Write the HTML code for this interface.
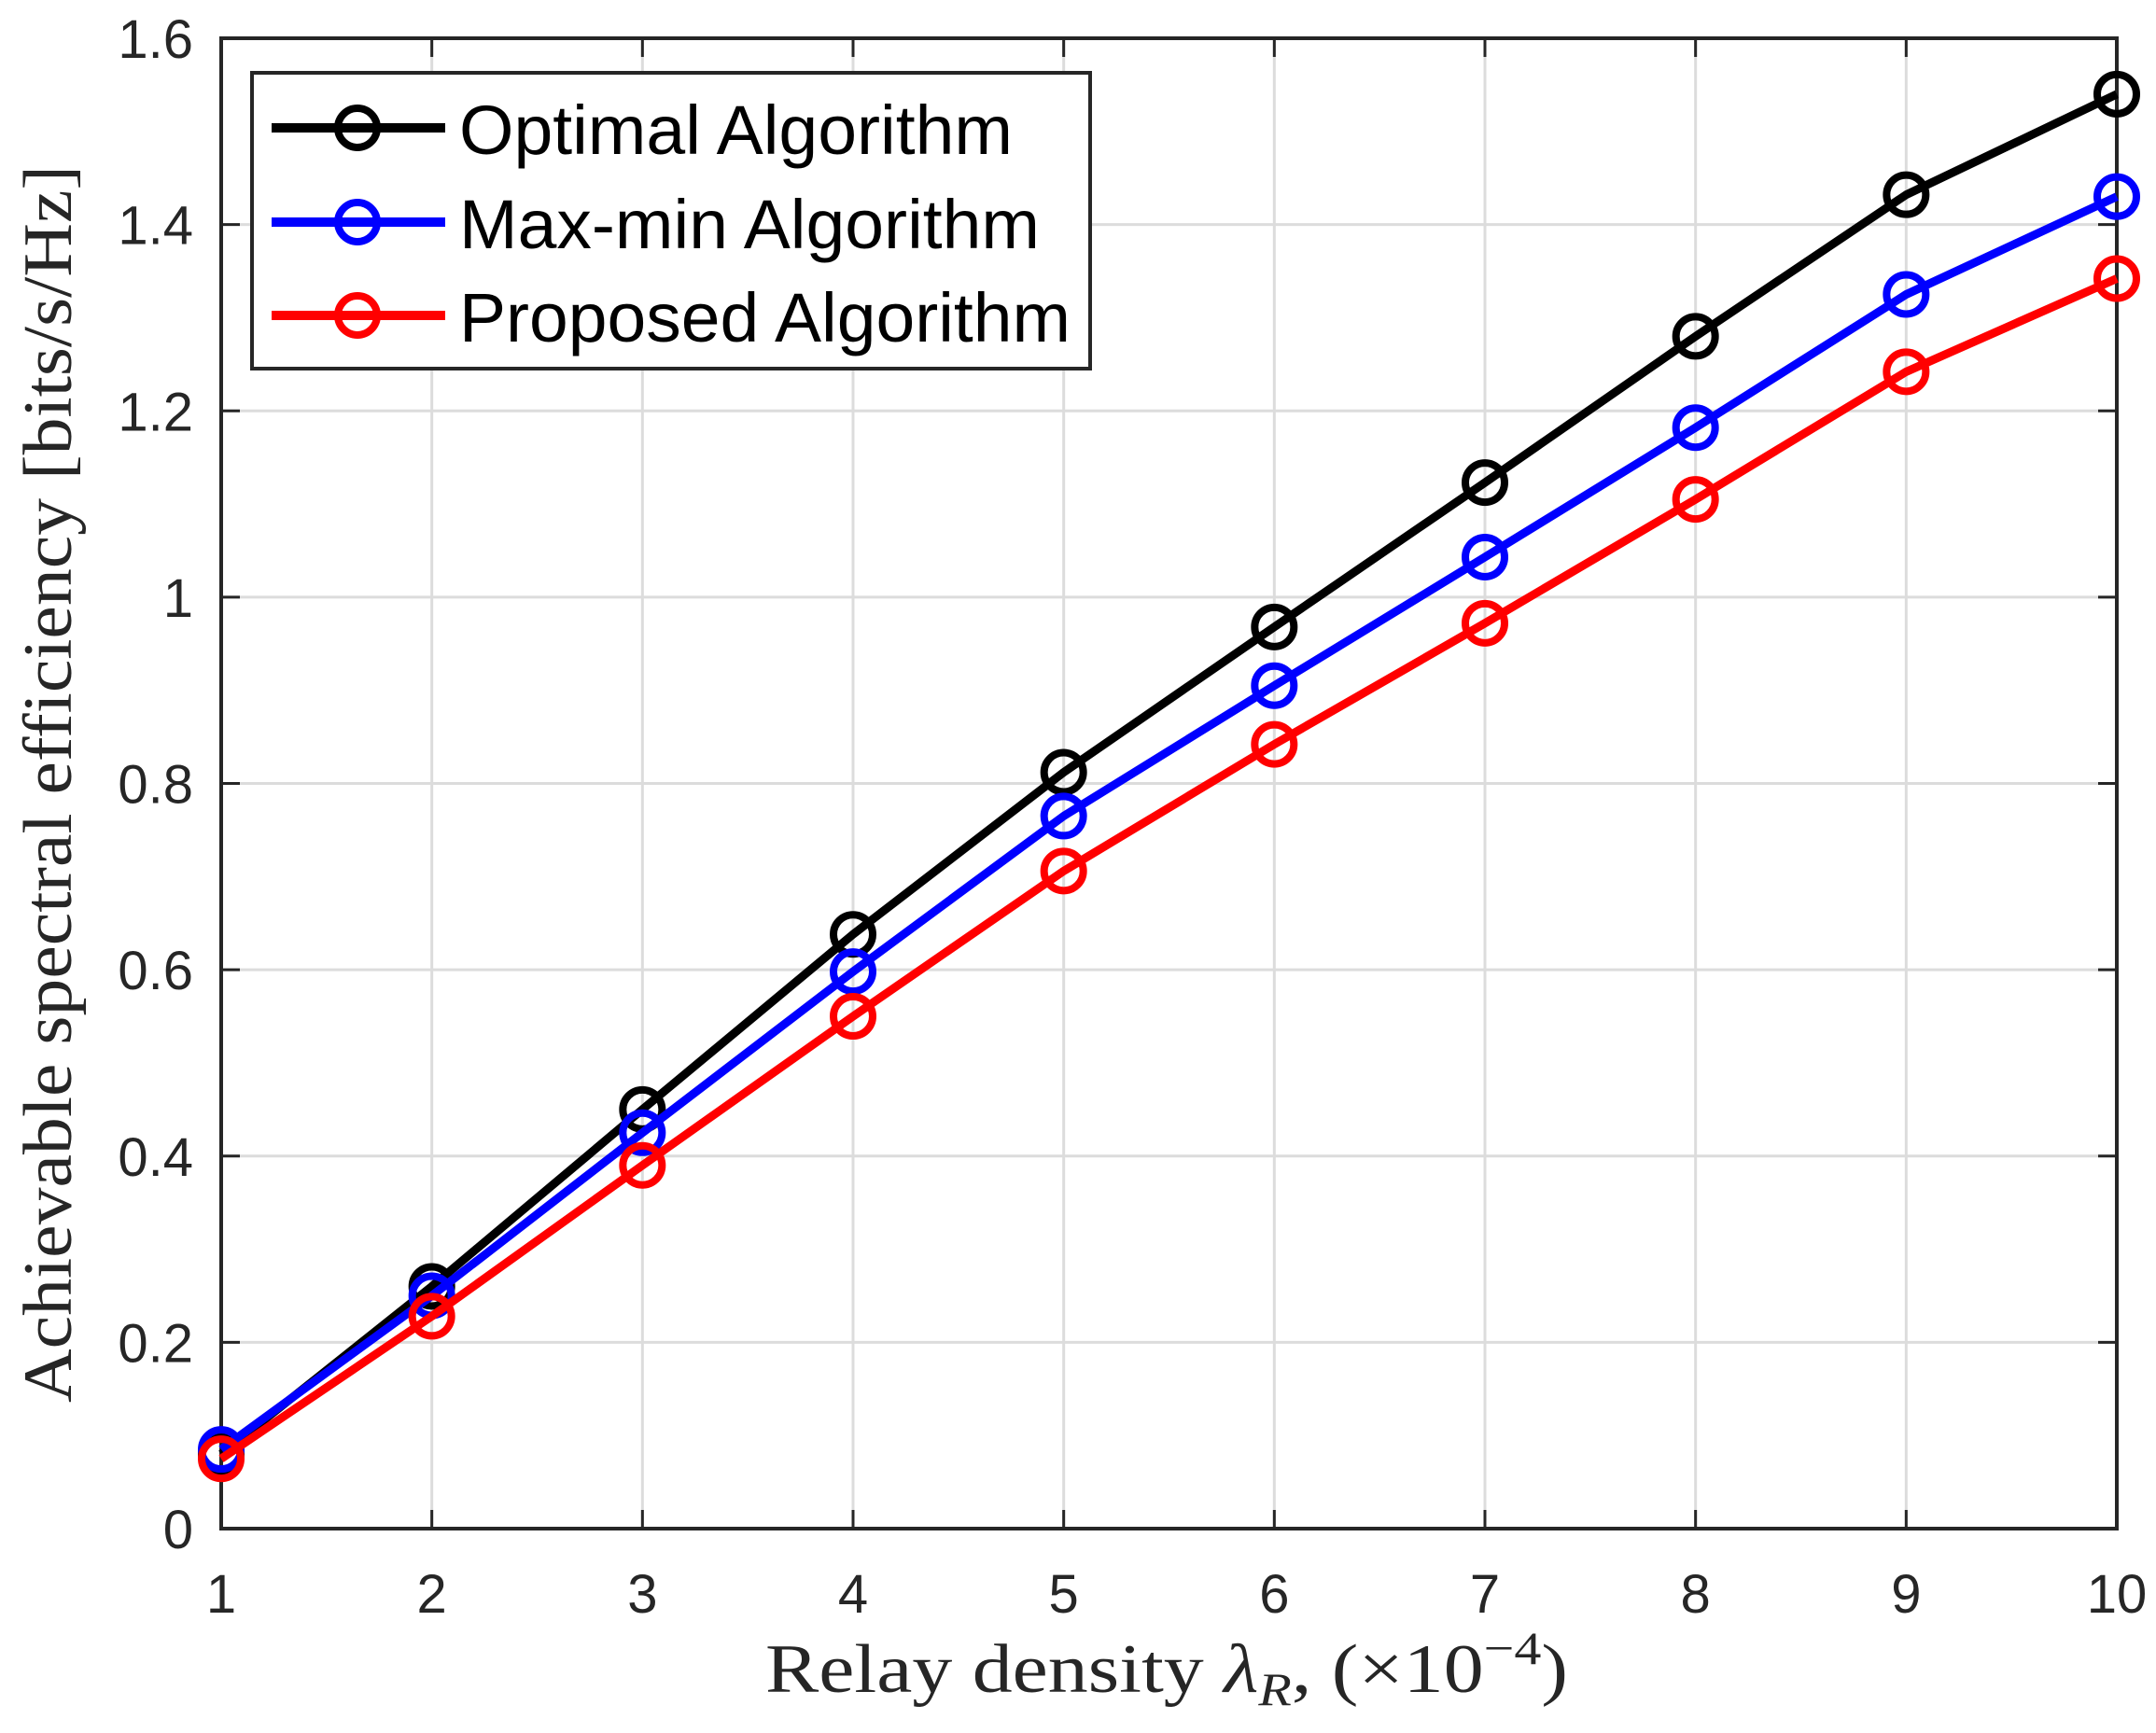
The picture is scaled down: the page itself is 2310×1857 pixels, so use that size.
<!DOCTYPE html>
<html><head><meta charset="utf-8"><style>html,body{margin:0;padding:0;background:#fff}</style></head>
<body>
<svg xmlns="http://www.w3.org/2000/svg" width="2310" height="1852" viewBox="0 0 2310 1852">
<rect width="2310" height="1852" fill="#fff"/>
<g id="grid" stroke="#dcdcdc" stroke-width="3"></g>
<g id="ticks" stroke="#262626" stroke-width="3"></g>
<rect x="237" y="41" width="2031" height="1597" fill="none" stroke="#262626" stroke-width="4"/>
<g id="series" fill="none" stroke-width="9" stroke-linejoin="round"></g>
<g id="labels" font-family="Liberation Sans, sans-serif" font-size="58" fill="#262626"></g>
<text x="1250" y="1813" text-anchor="middle" font-family="Liberation Serif, serif" font-size="74" fill="#262626" textLength="860" lengthAdjust="spacingAndGlyphs">Relay density <tspan font-style="italic">λ</tspan><tspan font-style="italic" font-size="50" dy="14">R</tspan><tspan dy="-14">, (×10</tspan><tspan font-size="50" dy="-30">−4</tspan><tspan dy="30">)</tspan></text>
<text transform="translate(76,840) rotate(-90)" text-anchor="middle" font-family="Liberation Serif, serif" font-size="74" fill="#262626" textLength="1326" lengthAdjust="spacingAndGlyphs">Achievable spectral efficiency [bits/s/Hz]</text>
<g>
<rect x="270" y="78" width="898" height="317" fill="#fff" stroke="#262626" stroke-width="4"/>
<line x1="291" y1="137" x2="477" y2="137" stroke="#000" stroke-width="10"/><circle cx="383" cy="137" r="21" fill="none" stroke="#000" stroke-width="8"/>
<line x1="291" y1="238" x2="477" y2="238" stroke="#0000ff" stroke-width="10"/><circle cx="383" cy="238" r="21" fill="none" stroke="#0000ff" stroke-width="8"/>
<line x1="291" y1="338" x2="477" y2="338" stroke="#ff0000" stroke-width="10"/><circle cx="383" cy="338" r="21" fill="none" stroke="#ff0000" stroke-width="8"/>
<g font-family="Liberation Sans, sans-serif" font-size="74" fill="#000">
<text x="492" y="165" textLength="593" lengthAdjust="spacingAndGlyphs">Optimal Algorithm</text>
<text x="492" y="266" textLength="622" lengthAdjust="spacingAndGlyphs">Max-min Algorithm</text>
<text x="492" y="366" textLength="655" lengthAdjust="spacingAndGlyphs">Proposed Algorithm</text>
</g>
</g>
<script>
const L=237,R=2268,T=41,B=1638,NS="http://www.w3.org/2000/svg";
const X=v=>L+(v-1)*(R-L)/9, Y=v=>B-v*(B-T)/1.6;
function el(p,t,a,txt){const e=document.createElementNS(NS,t);for(const k in a)e.setAttribute(k,a[k]);if(txt!==undefined)e.textContent=txt;document.getElementById(p).appendChild(e);return e;}
for(let i=1;i<=10;i++){const x=X(i);el("grid","line",{x1:x,y1:T,x2:x,y2:B});el("ticks","line",{x1:x,y1:B,x2:x,y2:B-20});el("ticks","line",{x1:x,y1:T,x2:x,y2:T+20});
el("labels","text",{x:x,y:1728,"text-anchor":"middle"},String(i));}
for(let j=0;j<=8;j++){const v=j*0.2,y=Y(v);el("grid","line",{x1:L,y1:y,x2:R,y2:y});el("ticks","line",{x1:L,y1:y,x2:L+20,y2:y});el("ticks","line",{x1:R,y1:y,x2:R-20,y2:y});
let s=(j==0)?"0":(j==5?"1":v.toFixed(1));el("labels","text",{x:207,y:y+21,"text-anchor":"end"},s);}
const data=[["#000",[0.08,0.26,0.45,0.638,0.812,0.968,1.123,1.28,1.432,1.54]],
["#0000ff",[0.085,0.25,0.425,0.598,0.765,0.905,1.043,1.182,1.325,1.43]],
["#ff0000",[0.075,0.228,0.39,0.55,0.706,0.842,0.972,1.105,1.242,1.342]]];
for(const [c,d] of data){el("series","polyline",{points:d.map((v,i)=>X(i+1)+","+Y(v)).join(" "),stroke:c});
d.forEach((v,i)=>el("series","circle",{cx:X(i+1),cy:Y(v),r:21,stroke:c,"stroke-width":8}));}
</script>
</svg>
</body></html>
